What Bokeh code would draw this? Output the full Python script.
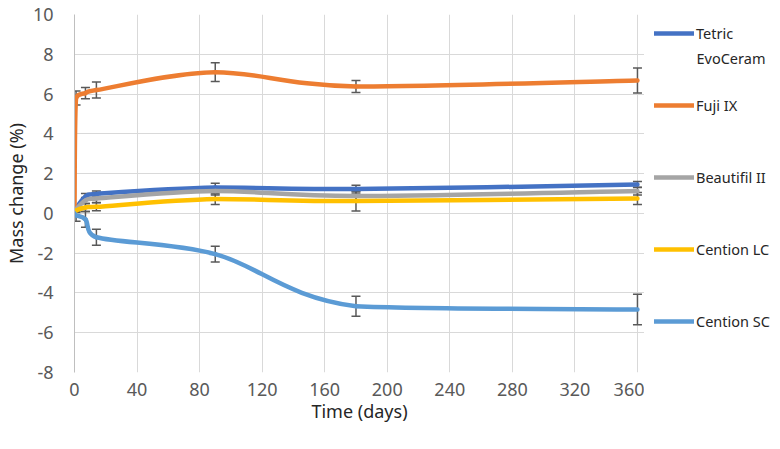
from bokeh.plotting import figure
from bokeh.layouts import row
from bokeh.models import (ColumnDataSource, Whisker, TeeHead, Legend, LegendItem,
                          Range1d, FixedTicker, Label)
from bokeh.embed import file_html
from bokeh.resources import INLINE

# ---- data ----
days = [0, 1, 7, 14, 90, 180, 360]
series_names = ["Tetric", "Fuji IX", "Beautifil II", "Cention LC", "Cention SC"]
name_second_line = "EvoCeram"
tetric = [0, 0.25, 0.85, 0.98, 1.3, 1.22, 1.45]
fuji = [0, 5.8, 6.05, 6.2, 7.1, 6.38, 6.68]
beautifil = [0, 0.2, 0.65, 0.75, 1.13, 0.87, 1.12]
cention_lc = [0, 0.15, 0.3, 0.33, 0.72, 0.62, 0.75]
cention_sc = [0, -0.1, -0.3, -1.2, -2.05, -4.67, -4.83]
tetric_sd = [0, 0.1, 0.15, 0.15, 0.22, 0.2, 0.15]
fuji_sd = [0, 0.35, 0.28, 0.4, 0.47, 0.3, 0.63]
beautifil_sd = [0, 0.1, 0.15, 0.2, 0.2, 0.25, 0.2]
cention_lc_sd = [0, 0.1, 0.2, 0.2, 0.27, 0.5, 0.3]
cention_sc_sd = [0, 0.3, 0.4, 0.4, 0.4, 0.5, 0.77]
colors = ["#4472C4", "#ED7D31", "#A5A5A5", "#FFC000", "#5B9BD5"]
x_ticks = [0, 40, 80, 120, 160, 200, 240, 280, 320, 360]
y_ticks = [-8, -6, -4, -2, 0, 2, 4, 6, 8, 10]

values = [tetric, fuji, beautifil, cention_lc, cention_sc]
sds = [tetric_sd, fuji_sd, beautifil_sd, cention_lc_sd, cention_sc_sd]

FONT = "Noto Sans"

p = figure(frame_width=570, frame_height=358, output_backend="svg", toolbar_location=None,
           x_range=Range1d(0, 364.5), y_range=Range1d(-8, 10),
           min_border_left=65, min_border_top=14, min_border_right=0, min_border_bottom=61)
p.outline_line_color = None

for ax in (p.xaxis[0], p.yaxis[0]):
    ax.major_tick_line_color = None
    ax.minor_tick_line_color = None
    ax.major_label_text_font = FONT
    ax.major_label_text_font_size = "18px"
    ax.major_label_text_color = "#595959"
    ax.axis_label_text_font = FONT
    ax.axis_label_text_font_size = "18px"
    ax.axis_label_text_font_style = "normal"
    ax.axis_label_text_color = "#262626"
p.xaxis[0].axis_line_color = None
p.yaxis[0].axis_line_color = "#BFBFBF"
p.xaxis[0].ticker = FixedTicker(ticks=x_ticks)
p.yaxis[0].ticker = FixedTicker(ticks=y_ticks)
p.yaxis[0].major_label_overrides = {t: str(t) for t in y_ticks}
p.xaxis[0].axis_label = "Time (days)"
p.yaxis[0].axis_label = "Mass change (%)"
p.xaxis[0].major_label_standoff = 4
p.yaxis[0].major_label_standoff = 15
p.xaxis[0].axis_label_standoff = 0
p.yaxis[0].axis_label_standoff = 2
p.xgrid.ticker = FixedTicker(ticks=x_ticks)
p.ygrid.ticker = FixedTicker(ticks=y_ticks)
p.grid.grid_line_color = "#D9D9D9"
p.grid.grid_line_width = 1


def smooth_controls(xs, ys):
    """Bezier control points for a smoothed line (x and y clamped to each segment)."""
    n = len(xs)
    out = {k: [] for k in ("x0", "y0", "x1", "y1", "cx0", "cy0", "cx1", "cy1")}
    for i in range(n - 1):
        ia, ib = max(i - 1, 0), min(i + 2, n - 1)
        seg = xs[i + 1] - xs[i]
        dx1, dy1 = (xs[i + 1] - xs[ia]) / 6.0, (ys[i + 1] - ys[ia]) / 6.0
        dx2, dy2 = (xs[ib] - xs[i]) / 6.0, (ys[ib] - ys[i]) / 6.0
        if dx1 > seg:
            dy1 *= seg / dx1
            dx1 = seg
        if dx2 > seg:
            dy2 *= seg / dx2
            dx2 = seg
        lo, hi = min(ys[i], ys[i + 1]), max(ys[i], ys[i + 1])
        cy0 = min(max(ys[i] + dy1, lo), hi)
        cy1 = min(max(ys[i + 1] - dy2, lo), hi)
        out["x0"].append(xs[i]); out["y0"].append(ys[i])
        out["x1"].append(xs[i + 1]); out["y1"].append(ys[i + 1])
        out["cx0"].append(xs[i] + dx1); out["cy0"].append(cy0)
        out["cx1"].append(xs[i + 1] - dx2); out["cy1"].append(cy1)
    return out


for ys, col in zip(values, colors):
    src = ColumnDataSource(smooth_controls(days, ys))
    p.bezier(x0="x0", y0="y0", x1="x1", y1="y1", cx0="cx0", cy0="cy0",
             cx1="cx1", cy1="cy1", source=src, line_color=col, line_width=4.5,
             line_cap="round")

for ys, sd in zip(values, sds):
    bx = [d for d, s in zip(days, sd) if s > 0]
    up = [v + s for v, s in zip(ys, sd) if s > 0]
    lo = [v - s for v, s in zip(ys, sd) if s > 0]
    esrc = ColumnDataSource(dict(x=bx, upper=up, lower=lo))
    w = Whisker(base="x", upper="upper", lower="lower", source=esrc,
                line_color="#595959", line_width=1.5,
                upper_head=TeeHead(size=9, line_color="#595959", line_width=1.5),
                lower_head=TeeHead(size=9, line_color="#595959", line_width=1.5))
    p.add_layout(w)

# ---- legend panel (separate figure so nothing is clipped) ----
lg = figure(frame_width=129, frame_height=358, output_backend="svg", toolbar_location=None,
            x_range=Range1d(0, 1), y_range=Range1d(0, 1),
            min_border_left=0, min_border_right=0, min_border_top=14, min_border_bottom=61)
lg.axis.visible = False
lg.grid.visible = False
lg.outline_line_color = None
items = []
for name, col in zip(series_names, colors):
    r = lg.line(x=[5, 6], y=[5, 6], line_color=col, line_width=4.5, line_cap="round")
    items.append(LegendItem(label=name, renderers=[r]))
legend = Legend(items=items, location=(10, 41), orientation="vertical",
                glyph_width=40, glyph_height=20, label_height=20, label_standoff=2,
                spacing=52, padding=0, margin=0, border_line_color=None,
                background_fill_alpha=0,
                label_text_font=FONT, label_text_font_size="14.5px", label_text_color="#262626")
lg.add_layout(legend, "center")
lg.add_layout(Label(x=52, y=315, x_units="screen", y_units="screen", text=name_second_line,
                    text_font=FONT, text_font_size="14.5px", text_color="#262626",
                    text_baseline="middle"))

open("out.html", "w").write(file_html(row(p, lg), INLINE))
